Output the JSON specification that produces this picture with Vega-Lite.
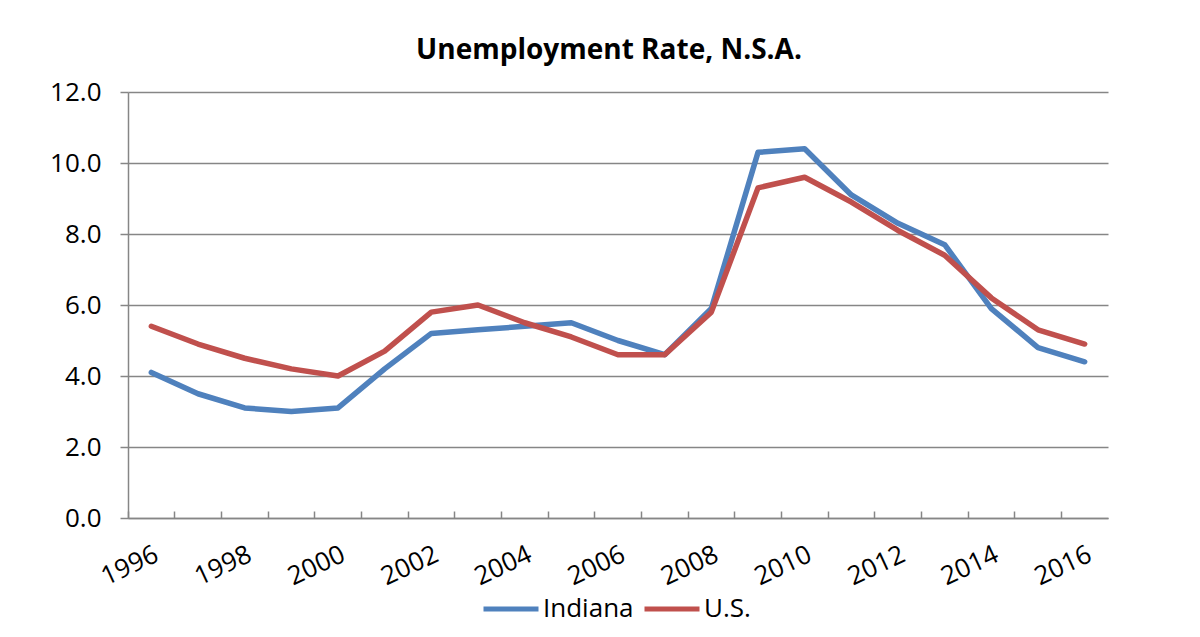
{
  "$schema": "https://vega.github.io/schema/vega-lite/v6.json",
  "width": 980,
  "height": 426,
  "autosize": {"type": "none"},
  "padding": {"left": 128, "top": 92, "right": 92, "bottom": 119},
  "background": "white",
  "title": {
    "text": "Unemployment Rate, N.S.A.",
    "font": "Open Sans",
    "fontSize": 28,
    "fontWeight": "bold",
    "color": "#000000",
    "anchor": "middle",
    "offset": 14,
    "dx": -9
  },
  "data": {
    "values": [
      {"year": 1996, "series": "Indiana", "rate": 4.1},
      {"year": 1997, "series": "Indiana", "rate": 3.5},
      {"year": 1998, "series": "Indiana", "rate": 3.1},
      {"year": 1999, "series": "Indiana", "rate": 3.0},
      {"year": 2000, "series": "Indiana", "rate": 3.1},
      {"year": 2001, "series": "Indiana", "rate": 4.2},
      {"year": 2002, "series": "Indiana", "rate": 5.2},
      {"year": 2003, "series": "Indiana", "rate": 5.3},
      {"year": 2004, "series": "Indiana", "rate": 5.4},
      {"year": 2005, "series": "Indiana", "rate": 5.5},
      {"year": 2006, "series": "Indiana", "rate": 5.0},
      {"year": 2007, "series": "Indiana", "rate": 4.6},
      {"year": 2008, "series": "Indiana", "rate": 5.9},
      {"year": 2009, "series": "Indiana", "rate": 10.3},
      {"year": 2010, "series": "Indiana", "rate": 10.4},
      {"year": 2011, "series": "Indiana", "rate": 9.1},
      {"year": 2012, "series": "Indiana", "rate": 8.3},
      {"year": 2013, "series": "Indiana", "rate": 7.7},
      {"year": 2014, "series": "Indiana", "rate": 5.9},
      {"year": 2015, "series": "Indiana", "rate": 4.8},
      {"year": 2016, "series": "Indiana", "rate": 4.4},
      {"year": 1996, "series": "U.S.", "rate": 5.4},
      {"year": 1997, "series": "U.S.", "rate": 4.9},
      {"year": 1998, "series": "U.S.", "rate": 4.5},
      {"year": 1999, "series": "U.S.", "rate": 4.2},
      {"year": 2000, "series": "U.S.", "rate": 4.0},
      {"year": 2001, "series": "U.S.", "rate": 4.7},
      {"year": 2002, "series": "U.S.", "rate": 5.8},
      {"year": 2003, "series": "U.S.", "rate": 6.0},
      {"year": 2004, "series": "U.S.", "rate": 5.5},
      {"year": 2005, "series": "U.S.", "rate": 5.1},
      {"year": 2006, "series": "U.S.", "rate": 4.6},
      {"year": 2007, "series": "U.S.", "rate": 4.6},
      {"year": 2008, "series": "U.S.", "rate": 5.8},
      {"year": 2009, "series": "U.S.", "rate": 9.3},
      {"year": 2010, "series": "U.S.", "rate": 9.6},
      {"year": 2011, "series": "U.S.", "rate": 8.9},
      {"year": 2012, "series": "U.S.", "rate": 8.1},
      {"year": 2013, "series": "U.S.", "rate": 7.4},
      {"year": 2014, "series": "U.S.", "rate": 6.2},
      {"year": 2015, "series": "U.S.", "rate": 5.3},
      {"year": 2016, "series": "U.S.", "rate": 4.9}
    ]
  },
  "mark": {"type": "line", "strokeWidth": 5.5, "strokeJoin": "round", "strokeCap": "round"},
  "encoding": {
    "x": {
      "field": "year",
      "type": "ordinal",
      "bandPosition": 0.5,
      "scale": {"type": "band", "paddingInner": 0, "paddingOuter": 0},
      "axis": {
        "title": null,
        "bandPosition": 0,
        "grid": false,
        "domainColor": "#868686",
        "domainWidth": 1.5,
        "tickColor": "#868686",
        "tickWidth": 1.5,
        "tickSize": -7,
        "labelExpr": "datum.value % 2 == 0 ? datum.label : ''",
        "labelAngle": -25,
        "labelAlign": "right",
        "labelBaseline": "top",
        "labelOffset": 0,
        "labelPadding": 30,
        "labelFont": "Open Sans",
        "labelFontSize": 26,
        "labelColor": "#000000"
      }
    },
    "y": {
      "field": "rate",
      "type": "quantitative",
      "scale": {"domain": [0, 12], "nice": false},
      "axis": {
        "title": null,
        "values": [0, 2, 4, 6, 8, 10, 12],
        "format": ".1f",
        "grid": true,
        "gridColor": "#868686",
        "gridWidth": 1.5,
        "domainColor": "#868686",
        "domainWidth": 1.5,
        "tickColor": "#868686",
        "tickWidth": 1.5,
        "tickSize": 8,
        "labelPadding": 19,
        "labelFont": "Open Sans",
        "labelFontSize": 26,
        "labelColor": "#000000"
      }
    },
    "color": {
      "field": "series",
      "type": "nominal",
      "scale": {"domain": ["Indiana", "U.S."], "range": ["#4F81BD", "#C0504D"]},
      "legend": {
        "title": null,
        "orient": "none",
        "direction": "horizontal",
        "legendX": 353,
        "legendY": 487,
        "symbolType": "stroke",
        "symbolSize": 3025,
        "symbolStrokeWidth": 5,
        "labelFont": "Open Sans",
        "labelFontSize": 26,
        "labelColor": "#000000",
        "labelOffset": 2,
        "columnPadding": 0
      }
    }
  },
  "config": {
    "view": {"stroke": null}
  }
}
